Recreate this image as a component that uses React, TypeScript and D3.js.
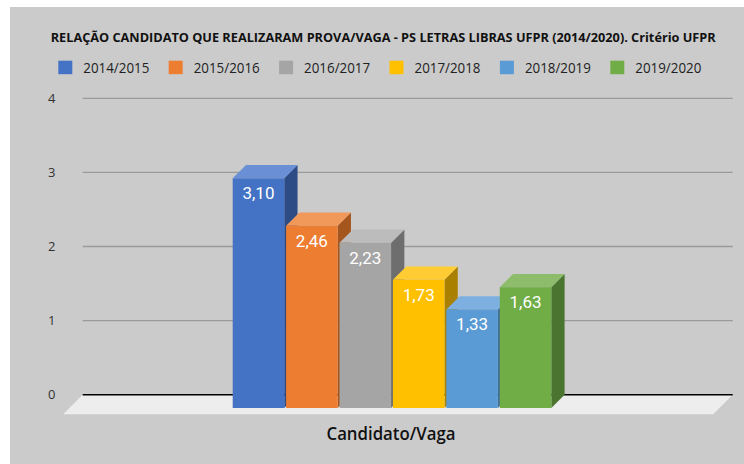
import React from "react";
import * as d3 from "d3";

const categories = ["2014/2015", "2015/2016", "2016/2017", "2017/2018", "2018/2019", "2019/2020"];
const values = [3.1, 2.46, 2.23, 1.73, 1.33, 1.63];
const labels = ["3,10", "2,46", "2,23", "1,73", "1,33", "1,63"];
const yTicks = [0, 1, 2, 3, 4];
const frontColors = ["#4472C4", "#ED7D31", "#A5A5A5", "#FFC000", "#5B9BD5", "#70AD47"];
const topColors = ["#6a8fd4", "#f1995a", "#bcbcbc", "#ffcd33", "#7db0e0", "#8dbd6b"];
const sideColors = ["#2d4c85", "#a5561e", "#6e6e6e", "#a98000", "#3e6d98", "#4b7431"];
const title = "RELAÇÃO CANDIDATO QUE REALIZARAM PROVA/VAGA - PS LETRAS LIBRAS UFPR (2014/2020). Critério UFPR";
const axisTitle = "Candidato/Vaga";

const W = 744;
const H = 464;
const depth = 13.3;
const floorDepth = 19.5;
const gridLeft = 82.7;
const gridRight = 732.7;

export default function App() {
  const y = d3.scaleLinear().domain([0, 4]).range([394.7, 98.3]);
  const x = d3.scaleBand<string>().domain(categories).range([232.7, 551.3]).paddingInner(0.035).paddingOuter(0);
  const bw = x.bandwidth();
  const yf = (v: number) => y(v) + depth;
  const font = "'Open Sans', 'Noto Sans', sans-serif";

  const floor = [
    [gridLeft, y(0)],
    [gridRight, y(0)],
    [gridRight - floorDepth, y(0) + floorDepth],
    [gridLeft - floorDepth, y(0) + floorDepth],
  ];

  return (
    <svg width={W} height={H} style={{ position: "absolute", left: 0, top: 0 }}>
      <rect x={0} y={0} width={W} height={H} fill="#ffffff" />
      <rect x={10} y={7} width={W - 10} height={H - 7} fill="#cbcbcb" />
      <text x={50.7} y={42} fontFamily={font} fontWeight="bold" fontSize={12.3} fill="#111" textLength={665} lengthAdjust="spacingAndGlyphs">
        {title}
      </text>
      {categories.map((c, i) => {
        const lx = 58.3 + i * 110.4;
        return (
          <g key={c}>
            <rect x={lx} y={60.7} width={14} height={13.5} fill={frontColors[i]} />
            <text x={lx + 25} y={72.5} fontFamily={font} fontSize={14.5} fill="#222" textLength={66} lengthAdjust="spacingAndGlyphs">
              {c}
            </text>
          </g>
        );
      })}
      {yTicks.map((t) => (
        <g key={t}>
          {t > 0 && <line x1={gridLeft} x2={gridRight} y1={y(t)} y2={y(t)} stroke="#9a9a9a" strokeWidth={1.3} />}
          <text x={51.7} y={y(t) + 4.5} textAnchor="middle" fontFamily={font} fontSize={13} fill="#333">
            {t}
          </text>
        </g>
      ))}
      <polygon points={floor.map((p) => p.join(",")).join(" ")} fill="#ededed" />
      <line x1={gridLeft} x2={gridRight} y1={y(0)} y2={y(0)} stroke="#000" strokeWidth={1.5} />
      {categories.map((c, i) => {
        const x0 = x(c) as number;
        const x1 = x0 + bw;
        const top = yf(values[i]);
        const bottom = yf(0);
        const topPts = [
          [x0, top],
          [x1, top],
          [x1 + depth, top - depth],
          [x0 + depth, top - depth],
        ];
        const sidePts = [
          [x1, top],
          [x1 + depth, top - depth],
          [x1 + depth, bottom - depth],
          [x1, bottom],
        ];
        return (
          <g key={c}>
            <polygon points={sidePts.map((p) => p.join(",")).join(" ")} fill={sideColors[i]} />
            <polygon points={topPts.map((p) => p.join(",")).join(" ")} fill={topColors[i]} />
            <rect x={x0} y={top} width={bw} height={bottom - top} fill={frontColors[i]} />
            <text x={x0 + bw / 2} y={top + 21} textAnchor="middle" fontFamily="Roboto, sans-serif" fontSize={17} fill="#ffffff">
              {labels[i]}
            </text>
          </g>
        );
      })}
      <text x={391} y={440} textAnchor="middle" fontFamily={font} fontWeight="600" fontSize={17.5} fill="#111" textLength={129} lengthAdjust="spacingAndGlyphs">
        {axisTitle}
      </text>
    </svg>
  );
}
